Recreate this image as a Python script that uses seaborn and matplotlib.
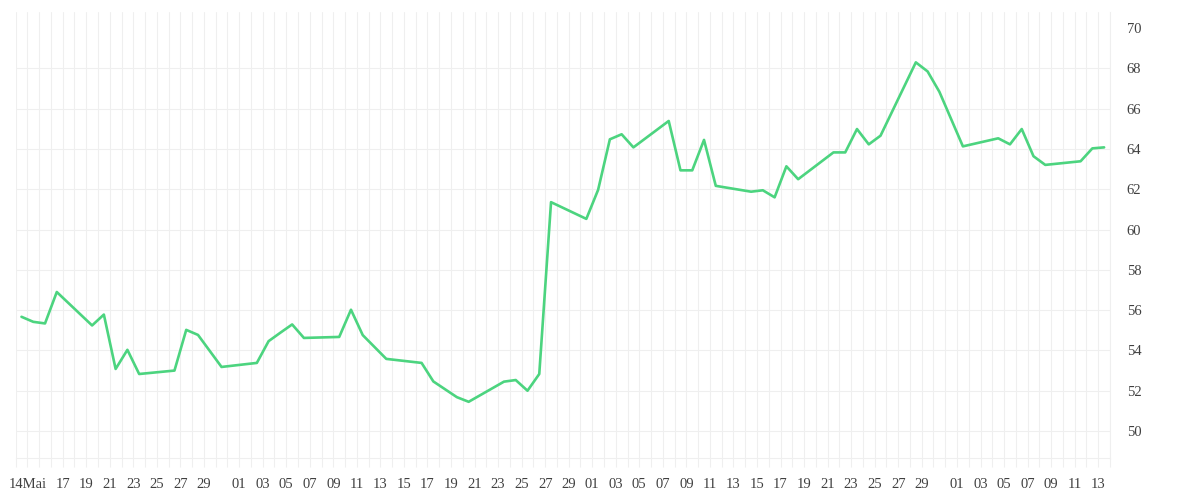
import matplotlib.pyplot as plt
import matplotlib.dates as mdates
import pandas as pd
import seaborn as sns

# values (trading days, 2025)
dates = [
    "2025-05-13", "2025-05-14", "2025-05-15", "2025-05-16", "2025-05-19",
    "2025-05-20", "2025-05-21", "2025-05-22", "2025-05-23", "2025-05-26",
    "2025-05-27", "2025-05-28", "2025-05-30", "2025-06-02", "2025-06-03",
    "2025-06-04", "2025-06-05", "2025-06-06", "2025-06-09", "2025-06-10",
    "2025-06-11", "2025-06-13", "2025-06-16", "2025-06-17", "2025-06-19",
    "2025-06-20", "2025-06-23", "2025-06-24", "2025-06-25", "2025-06-26",
    "2025-06-27", "2025-06-30", "2025-07-01", "2025-07-02", "2025-07-03",
    "2025-07-04", "2025-07-07", "2025-07-08", "2025-07-09", "2025-07-10",
    "2025-07-11", "2025-07-14", "2025-07-15", "2025-07-16", "2025-07-17",
    "2025-07-18", "2025-07-21", "2025-07-22", "2025-07-23", "2025-07-24",
    "2025-07-25", "2025-07-28", "2025-07-29", "2025-07-30", "2025-08-01",
    "2025-08-04", "2025-08-05", "2025-08-06", "2025-08-07", "2025-08-08",
    "2025-08-11", "2025-08-12", "2025-08-13",
]
values = [
    55.67, 55.42, 55.34, 56.90, 55.24,
    55.78, 53.08, 54.03, 52.83, 53.00,
    55.02, 54.77, 53.18, 53.38, 54.46,
    54.88, 55.29, 54.62, 54.67, 56.02,
    54.76, 53.58, 53.38, 52.46, 51.68,
    51.45, 52.45, 52.53, 52.00, 52.83,
    61.36, 60.53, 61.97, 64.48, 64.73,
    64.08, 65.39, 62.94, 62.94, 64.45,
    62.17, 61.88, 61.95, 61.60, 63.14,
    62.50, 63.83, 63.83, 64.99, 64.23,
    64.66, 68.30, 67.85, 66.84, 64.13,
    64.53, 64.23, 64.99, 63.64, 63.21,
    63.39, 64.03, 64.08,
]

x_tick_dates = (
    ["2025-05-14"]
    + [f"2025-05-{d:02d}" for d in range(17, 30, 2)]
    + [f"2025-06-{d:02d}" for d in range(1, 30, 2)]
    + [f"2025-07-{d:02d}" for d in range(1, 30, 2)]
    + [f"2025-08-{d:02d}" for d in range(1, 14, 2)]
)
x_tick_labels = ["14Mai"] + [d[-2:] for d in x_tick_dates[1:]]
y_ticks = list(range(50, 71, 2))

LINE = "#4cd47f"
GRID = "#efefef"
TEXT = "#404040"

sns.set_theme(style="white")
plt.rcParams["font.family"] = ["Liberation Serif", "DejaVu Serif"]

df = pd.DataFrame({"time": pd.to_datetime(dates) + pd.Timedelta(hours=12), "value": values})

fig = plt.figure(figsize=(12, 5), dpi=100)
ax = fig.add_axes([0.013, 0.084, 0.912, 0.892])

sns.lineplot(data=df, x="time", y="value", color=LINE, linewidth=1.9, ax=ax)

ax.set_xlim(pd.Timestamp("2025-05-13"), pd.Timestamp("2025-08-14"))
ax.set_ylim(48.66, 70.8)

# x: one grid line per day, sparse labels
ax.xaxis.set_minor_locator(mdates.DayLocator())
ax.set_xticks(pd.to_datetime(x_tick_dates))
ax.set_xticklabels(x_tick_labels)
ax.tick_params(axis="x", which="both", direction="out", length=6.5, width=0.75,
               color=GRID, pad=8, labelsize=10.5, labelcolor=TEXT, bottom=True)
ax.grid(axis="x", which="both", color=GRID, linewidth=0.75)

# y: labels on the right, no tick marks
ax.yaxis.tick_right()
ax.set_yticks(y_ticks)
ax.tick_params(axis="y", length=0, pad=12, labelsize=10.5, labelcolor=TEXT)
ax.grid(axis="y", which="major", color=GRID, linewidth=0.75)
ax.yaxis.get_gridlines()[-1].set_visible(False)

ax.set_axisbelow(True)
for side in ["top", "left"]:
    ax.spines[side].set_visible(False)
for side in ["right", "bottom"]:
    ax.spines[side].set_color(GRID)
    ax.spines[side].set_linewidth(0.75)

ax.set_xlabel("")
ax.set_ylabel("")

fig.savefig("out.png", dpi=100)
